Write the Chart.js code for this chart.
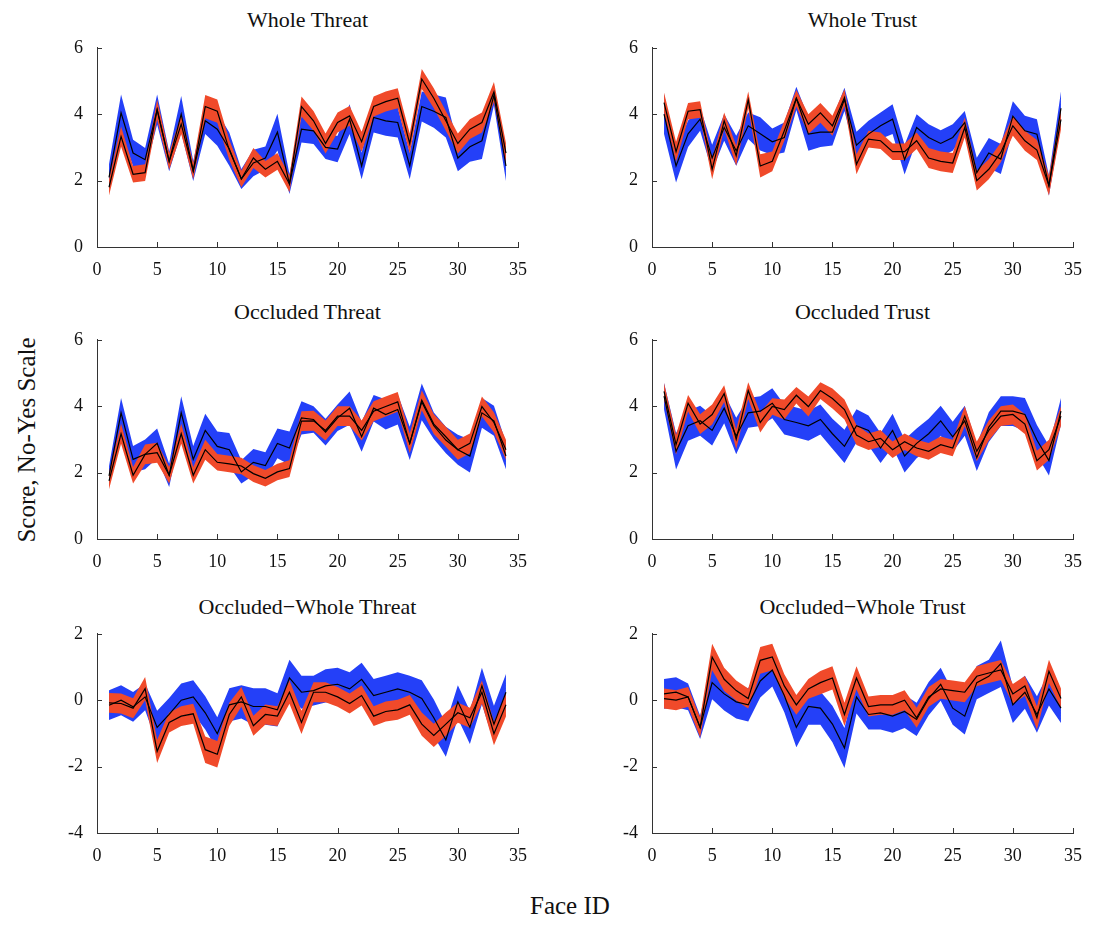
<!DOCTYPE html>
<html>
<head>
<meta charset="utf-8">
<script src="https://cdn.jsdelivr.net/npm/chart.js@4.4.0/dist/chart.umd.min.js"></script>
<style>
  body { margin: 0; background: #fff; width: 1095px; height: 930px; position: relative; overflow: hidden; font-family: "Liberation Serif", "DejaVu Serif", serif; color: #111; }
  canvas { position: absolute; }
  .ttl { position: absolute; width: 421px; text-align: center; font-size: 22px; line-height: 24px; }
  .lbl { position: absolute; font-size: 25px; line-height: 28px; white-space: nowrap; }
</style>
</head>
<body>
<div class="ttl" style="left:97px;top:8px">Whole Threat</div>
<div class="ttl" style="left:652px;top:8px">Whole Trust</div>
<div class="ttl" style="left:97px;top:300px">Occluded Threat</div>
<div class="ttl" style="left:652px;top:300px">Occluded Trust</div>
<div class="ttl" style="left:97px;top:595px">Occluded−Whole Threat</div>
<div class="ttl" style="left:652px;top:595px">Occluded−Whole Trust</div>
<div class="lbl" style="left:-88px;top:426px;transform:rotate(-90deg);width:230px;text-align:center">Score, No-Yes Scale</div>
<div class="lbl" style="left:530px;top:892px">Face ID</div>

<canvas id="c1"></canvas>
<canvas id="c2"></canvas>
<canvas id="c3"></canvas>
<canvas id="c4"></canvas>
<canvas id="c5"></canvas>
<canvas id="c6"></canvas>

<script>
const faceIds = [1,2,3,4,5,6,7,8,9,10,11,12,13,14,15,16,17,18,19,20,21,22,23,24,25,26,27,28,29,30,31,32,33,34];

// Whole Threat
const wholeThreatBlue = [2.1,4.04,2.83,2.63,4.14,2.58,4.0,2.29,3.8,3.55,2.95,2.05,2.53,2.68,3.46,1.9,3.55,3.5,3.0,2.95,3.85,2.44,3.9,3.8,3.75,2.44,4.23,4.09,3.9,2.68,3.02,3.2,4.57,2.44];
const wholeThreatBlueErr = [0.4,0.55,0.4,0.35,0.45,0.3,0.55,0.3,0.4,0.5,0.5,0.3,0.4,0.35,0.55,0.3,0.4,0.4,0.35,0.4,0.45,0.4,0.45,0.45,0.45,0.4,0.45,0.5,0.6,0.4,0.45,0.55,0.3,0.45];
const wholeThreatRed = [1.8,3.33,2.19,2.24,4.14,2.58,3.7,2.29,4.23,4.09,2.92,2.05,2.68,2.34,2.58,1.9,4.23,3.8,3.12,3.75,3.95,3.17,4.23,4.38,4.48,3.12,5.06,4.48,3.8,3.12,3.55,3.75,4.67,2.83];
const wholeThreatRedErr = [0.25,0.3,0.25,0.25,0.3,0.25,0.3,0.25,0.35,0.35,0.3,0.25,0.3,0.25,0.25,0.25,0.3,0.3,0.3,0.3,0.3,0.3,0.3,0.3,0.3,0.3,0.3,0.3,0.3,0.3,0.3,0.3,0.3,0.3];

// Whole Trust
const wholeTrustBlue = [4.0,2.44,3.41,3.85,2.68,3.6,2.9,3.65,3.41,3.17,3.3,4.48,3.4,3.46,3.46,4.45,3.07,3.4,3.65,3.85,2.63,3.6,3.3,3.12,3.3,3.75,2.24,2.83,2.65,3.94,3.5,3.4,1.85,4.18];
const wholeTrustBlueErr = [0.6,0.5,0.4,0.35,0.4,0.4,0.45,0.4,0.5,0.4,0.45,0.35,0.5,0.45,0.4,0.35,0.4,0.4,0.4,0.45,0.45,0.4,0.4,0.4,0.4,0.35,0.45,0.45,0.45,0.45,0.45,0.45,0.3,0.5];
const wholeTrustRed = [4.35,2.87,4.09,4.14,2.34,3.8,2.75,4.43,2.44,2.58,3.5,4.48,3.7,4.04,3.65,4.5,2.49,3.25,3.2,2.87,2.87,3.2,2.68,2.58,2.53,3.6,2.0,2.34,2.85,3.65,3.2,2.92,1.85,3.84];
const wholeTrustRedErr = [0.3,0.3,0.25,0.25,0.3,0.25,0.3,0.25,0.35,0.3,0.3,0.25,0.3,0.3,0.3,0.25,0.3,0.25,0.25,0.25,0.25,0.25,0.3,0.3,0.3,0.3,0.3,0.3,0.3,0.3,0.3,0.3,0.3,0.3];

// Occluded Threat
const occThreatBlue = [1.9,3.8,2.4,2.55,2.88,1.92,3.8,2.4,3.27,2.79,2.69,2.02,2.31,2.21,2.88,2.74,3.65,3.6,3.22,3.65,3.94,3.08,3.94,3.75,3.9,2.88,4.13,3.41,2.98,2.69,2.5,3.8,3.56,2.5];
const occThreatBlueErr = [0.3,0.45,0.4,0.45,0.45,0.35,0.5,0.4,0.5,0.45,0.5,0.35,0.4,0.4,0.45,0.5,0.5,0.4,0.4,0.4,0.5,0.45,0.4,0.45,0.45,0.5,0.55,0.4,0.4,0.45,0.5,0.45,0.45,0.4];
const occThreatRed = [1.75,3.17,1.92,2.55,2.6,1.92,3.17,1.92,2.69,2.31,2.26,2.2,1.97,1.83,2.02,2.12,3.55,3.56,3.27,3.7,3.7,3.27,3.85,3.99,4.13,2.88,4.18,3.46,3.08,2.69,2.88,3.99,3.51,2.69];
const occThreatRedErr = [0.25,0.3,0.25,0.3,0.3,0.25,0.3,0.25,0.3,0.25,0.25,0.25,0.25,0.25,0.25,0.25,0.3,0.3,0.3,0.3,0.3,0.3,0.3,0.3,0.3,0.3,0.3,0.3,0.3,0.3,0.3,0.3,0.3,0.3];

// Occluded Trust
const occTrustBlue = [4.3,2.64,3.41,3.56,3.27,3.94,3.1,3.8,3.85,4.09,3.6,3.51,3.41,3.6,3.17,2.79,3.41,3.27,2.74,3.27,2.5,2.88,3.17,3.56,3.08,3.56,2.45,3.37,3.85,3.85,3.75,2.98,2.36,3.85];
const occTrustBlueErr = [0.4,0.55,0.45,0.45,0.45,0.45,0.55,0.45,0.45,0.45,0.45,0.45,0.45,0.45,0.45,0.5,0.5,0.45,0.45,0.5,0.5,0.45,0.45,0.45,0.45,0.45,0.4,0.45,0.45,0.45,0.5,0.45,0.45,0.4];
const occTrustRed = [4.45,2.84,4.09,3.46,3.75,4.38,3.0,4.47,3.51,3.99,3.9,4.33,3.99,4.47,4.23,3.9,3.13,2.93,3.03,2.69,2.93,2.74,2.64,2.84,2.74,3.7,2.64,3.27,3.7,3.75,3.46,2.36,2.69,3.7];
const occTrustRedErr = [0.25,0.3,0.25,0.3,0.3,0.25,0.3,0.25,0.3,0.25,0.3,0.25,0.3,0.25,0.3,0.3,0.3,0.25,0.25,0.25,0.25,0.25,0.25,0.25,0.25,0.3,0.3,0.3,0.3,0.3,0.3,0.3,0.3,0.3];

// Occluded-Whole Threat
const diffThreatBlue = [-0.15,0.0,-0.2,0.1,-0.82,-0.43,0.0,0.1,-0.38,-1.01,-0.14,-0.05,-0.19,-0.19,-0.29,0.67,0.24,0.29,0.43,0.48,0.34,0.63,0.14,0.24,0.34,0.24,0.05,-0.53,-1.2,-0.05,-0.82,0.43,-0.72,0.24];
const diffThreatBlueErr = [0.45,0.45,0.45,0.4,0.5,0.5,0.5,0.5,0.5,0.5,0.5,0.5,0.55,0.55,0.5,0.55,0.5,0.45,0.5,0.5,0.5,0.5,0.5,0.5,0.5,0.5,0.55,0.55,0.5,0.5,0.5,0.55,0.55,0.55];
const diffThreatRed = [-0.08,-0.1,-0.24,0.35,-1.54,-0.67,-0.48,-0.41,-1.49,-1.63,-0.43,0.1,-0.77,-0.43,-0.48,0.24,-0.67,0.24,0.24,0.1,-0.1,0.14,-0.48,-0.34,-0.29,-0.14,-0.72,-1.06,-0.72,-0.38,-0.53,0.24,-1.01,-0.14];
const diffThreatRedErr = [0.3,0.3,0.3,0.35,0.35,0.3,0.3,0.3,0.4,0.4,0.35,0.3,0.3,0.3,0.3,0.35,0.35,0.3,0.3,0.3,0.3,0.3,0.3,0.3,0.3,0.3,0.35,0.35,0.35,0.3,0.3,0.35,0.35,0.35];

// Occluded-Whole Trust
const diffTrustBlue = [0.19,0.24,0.1,-0.82,0.53,0.19,-0.05,-0.14,0.58,0.91,0.14,-0.82,-0.19,-0.24,-0.72,-1.44,0.1,-0.43,-0.38,-0.48,-0.34,-0.58,0.05,0.48,-0.24,-0.48,0.53,0.72,1.1,-0.14,0.24,-0.43,0.34,-0.24];
const diffTrustBlueErr = [0.45,0.45,0.4,0.35,0.5,0.5,0.5,0.5,0.5,0.5,0.5,0.6,0.55,0.5,0.55,0.6,0.5,0.45,0.5,0.5,0.5,0.5,0.5,0.5,0.5,0.55,0.5,0.5,0.7,0.55,0.5,0.55,0.5,0.45];
const diffTrustRed = [0.05,0.0,0.1,-0.82,1.3,0.63,0.29,0.05,1.2,1.3,0.43,-0.14,0.34,0.53,0.67,-0.43,0.67,-0.19,-0.14,-0.14,0.0,-0.53,0.1,0.34,0.29,0.24,0.72,0.82,0.91,0.19,0.43,-0.53,0.87,0.05];
const diffTrustRedErr = [0.3,0.3,0.3,0.3,0.4,0.35,0.3,0.3,0.4,0.4,0.35,0.3,0.3,0.35,0.35,0.35,0.35,0.3,0.3,0.3,0.3,0.3,0.3,0.3,0.3,0.3,0.3,0.3,0.3,0.3,0.3,0.35,0.35,0.3];

const blueFill = 'rgb(36, 64, 248)';
const redFill = 'rgb(240, 74, 42)';

const inwardTicks = {
  id: 'inwardTicks',
  afterDraw: (chart) => {
    const { ctx, chartArea: { left, bottom }, scales: { x, y } } = chart;
    ctx.save();
    ctx.strokeStyle = '#333';
    ctx.lineWidth = 1;
    ctx.beginPath();
    x.ticks.forEach(t => {
      const px = Math.round(x.getPixelForValue(t.value)) + 0.5;
      ctx.moveTo(px, bottom);
      ctx.lineTo(px, bottom - 5);
    });
    y.ticks.forEach(t => {
      const py = Math.round(y.getPixelForValue(t.value)) + 0.5;
      ctx.moveTo(left, py);
      ctx.lineTo(left + 5, py);
    });
    ctx.stroke();
    ctx.restore();
  }
};

const pts = (vals) => faceIds.map((id, i) => ({ x: id, y: vals[i] }));
const hi = (vals, err) => faceIds.map((id, i) => ({ x: id, y: vals[i] + err[i] }));
const lo = (vals, err) => faceIds.map((id, i) => ({ x: id, y: vals[i] - err[i] }));

const band = (data, color, order, fill) => ({
  data: data,
  backgroundColor: color,
  borderWidth: 0,
  pointRadius: 0,
  fill: fill,
  order: order,
});

const makePanel = (id, plotLeft, plotTop, blue, blueErr, red, redErr, yMin, yMax) => {
  const canvas = document.getElementById(id);
  canvas.style.left = (plotLeft - 57) + 'px';
  canvas.style.top = (plotTop - 10) + 'px';
  canvas.width = 500;
  canvas.height = 251;
  const tickFont = { family: 'Liberation Serif', size: 18 };
  return new Chart(canvas.getContext('2d'), {
    type: 'line',
    data: {
      datasets: [
        { data: pts(red), borderColor: '#000', borderWidth: 1.2, pointRadius: 0, fill: false, order: 0 },
        { data: pts(blue), borderColor: '#000', borderWidth: 1.2, pointRadius: 0, fill: false, order: 0 },
        band(hi(red, redErr), redFill, 1, '+1'),
        band(lo(red, redErr), redFill, 1, false),
        band(hi(blue, blueErr), blueFill, 2, '+1'),
        band(lo(blue, blueErr), blueFill, 2, false),
      ],
    },
    options: {
      responsive: false,
      animation: false,
      devicePixelRatio: 1,
      layout: { padding: { top: 10, right: 22, left: 0, bottom: 0 } },
      elements: { line: { tension: 0 } },
      plugins: { legend: { display: false }, tooltip: { enabled: false } },
      scales: {
        x: {
          type: 'linear',
          min: 0,
          max: 35,
          ticks: { stepSize: 5, color: '#111', font: tickFont, padding: 4, maxRotation: 0 },
          grid: { display: false },
          border: { display: true, color: '#333', width: 1 },
          afterFit: (s) => { s.height = 35; },
        },
        y: {
          min: yMin,
          max: yMax,
          ticks: { stepSize: 2, color: '#111', font: tickFont, padding: 6 },
          grid: { display: false },
          border: { display: true, color: '#333', width: 1 },
          afterFit: (s) => { s.width = 57; },
        },
      },
    },
    plugins: [inwardTicks],
  });
};

makePanel('c1', 97, 41, wholeThreatBlue, wholeThreatBlueErr, wholeThreatRed, wholeThreatRedErr, 0, 6);
makePanel('c2', 652, 41, wholeTrustBlue, wholeTrustBlueErr, wholeTrustRed, wholeTrustRedErr, 0, 6);
makePanel('c3', 97, 333, occThreatBlue, occThreatBlueErr, occThreatRed, occThreatRedErr, 0, 6);
makePanel('c4', 652, 333, occTrustBlue, occTrustBlueErr, occTrustRed, occTrustRedErr, 0, 6);
makePanel('c5', 97, 627, diffThreatBlue, diffThreatBlueErr, diffThreatRed, diffThreatRedErr, -4, 2);
makePanel('c6', 652, 627, diffTrustBlue, diffTrustBlueErr, diffTrustRed, diffTrustRedErr, -4, 2);
</script>
</body>
</html>
